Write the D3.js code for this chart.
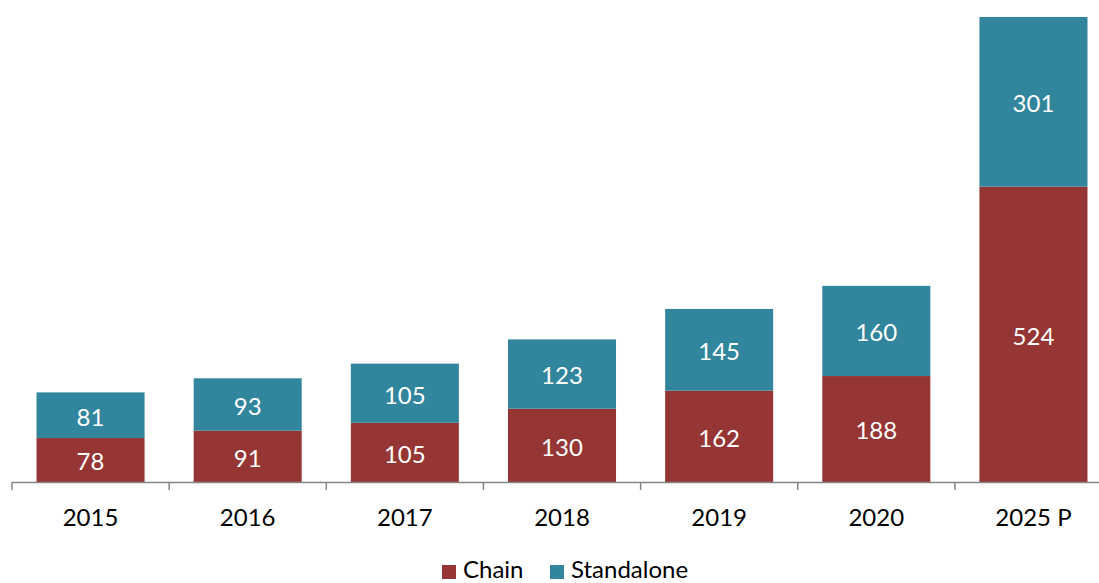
<!DOCTYPE html>
<html>
<head>
<meta charset="utf-8">
<script src="https://cdn.jsdelivr.net/npm/d3@7"></script>
<style>
  body { margin: 0; background: #fff; }
  svg text { font-family: Lato, "Open Sans", sans-serif; }
</style>
</head>
<body>
<div id="chart"></div>
<script>
  const years = ['2015', '2016', '2017', '2018', '2019', '2020', '2025 P'];
  const chain = [78, 91, 105, 130, 162, 188, 524];
  const standalone = [81, 93, 105, 123, 145, 160, 301];
  const seriesNames = ['Chain', 'Standalone'];
  const colors = ['#963634', '#31859c'];

  const width = 1099, height = 583;
  const svg = d3.select('#chart').append('svg')
      .attr('width', width)
      .attr('height', height);

  const rows = years.map((y, i) => ({year: y, Chain: chain[i], Standalone: standalone[i]}));
  const stacked = d3.stack().keys(seriesNames)(rows);

  const x = d3.scaleBand()
    .domain(years)
    .range([12, 1112])
    .paddingInner(0.3125)
    .paddingOuter(0.156);

  const y = d3.scaleLinear()
    .domain([0, 825])
    .range([482, 17]);

  const color = d3.scaleOrdinal().domain(seriesNames).range(colors);

  svg.append('g')
    .selectAll('g')
    .data(stacked)
    .join('g')
      .attr('fill', d => color(d.key))
    .selectAll('rect')
    .data(d => d)
    .join('rect')
      .attr('x', d => x(d.data.year))
      .attr('y', d => y(d[1]))
      .attr('width', x.bandwidth())
      .attr('height', d => y(d[0]) - y(d[1]));

  // value labels
  svg.append('g')
    .selectAll('g')
    .data(stacked)
    .join('g')
    .selectAll('text')
    .data(d => d.map(v => ({v, key: d.key})))
    .join('text')
      .attr('x', d => x(d.v.data.year) + x.bandwidth() / 2)
      .attr('y', d => (y(d.v[0]) + y(d.v[1])) / 2 + 2)
      .attr('dy', '0.35em')
      .attr('text-anchor', 'middle')
      .attr('fill', '#fff')
      .attr('font-size', 24)
      .text(d => d.v.data[d.key]);

  // axis: line with ticks between categories
  const step = x.step();
  const ticks = d3.range(years.length + 1).map(i => 12 + i * step);
  const axis = svg.append('g').attr('stroke', '#868686').attr('stroke-width', 1.5);
  axis.append('line')
    .attr('x1', 12).attr('x2', 1112)
    .attr('y1', 482.5).attr('y2', 482.5);
  axis.selectAll('.tick')
    .data(ticks)
    .join('line')
      .attr('x1', d => d).attr('x2', d => d)
      .attr('y1', 482).attr('y2', 490);

  svg.append('g')
    .selectAll('text')
    .data(years)
    .join('text')
      .attr('x', d => x(d) + x.bandwidth() / 2)
      .attr('y', 526)
      .attr('text-anchor', 'middle')
      .attr('fill', '#000')
      .attr('font-size', 24)
      .text(d => d);

  // legend
  const legendX = [442, 550];
  const legend = svg.append('g')
    .selectAll('g')
    .data(seriesNames)
    .join('g')
      .attr('transform', (d, i) => `translate(${legendX[i]},565)`);
  legend.append('rect')
    .attr('width', 14).attr('height', 14)
    .attr('fill', d => color(d));
  legend.append('text')
    .attr('x', 21).attr('y', 13)
    .attr('font-size', 24)
    .attr('fill', '#000')
    .text(d => d);
</script>
</body>
</html>
